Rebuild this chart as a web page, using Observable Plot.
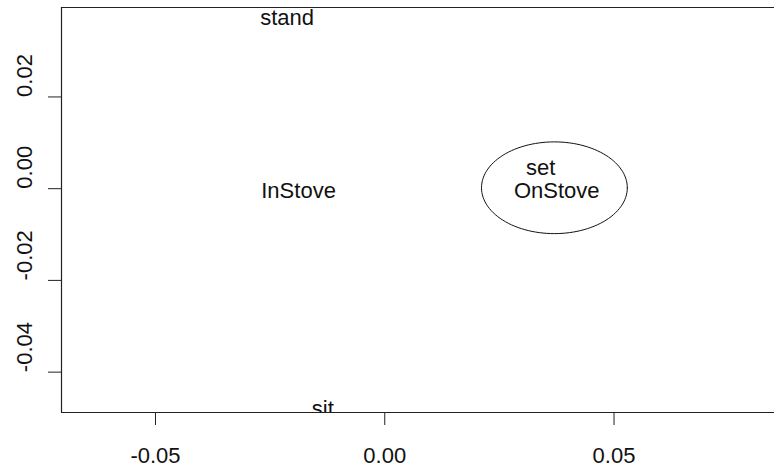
<!DOCTYPE html>
<html><head><meta charset="utf-8">
<script src="https://cdn.jsdelivr.net/npm/d3@7"></script>
<script src="https://cdn.jsdelivr.net/npm/@observablehq/plot@0.6"></script>
<style>body{margin:0;background:#fff}</style>
</head><body><div id="chart"></div>
<script>
const labels = ["stand", "InStove", "sit", "set", "OnStove"];
const labelX = [-0.0213, -0.0188, -0.0135, 0.0340, 0.0375];
const labelY = [0.0377, 0.0000, -0.0474, 0.0050, 0.0000];
const xTicks = [-0.05, 0, 0.05];
const yTicks = [-0.04, -0.02, 0, 0.02];
const xDomain = [-0.0705, 0.085];
const yDomain = [-0.0488, 0.0395];
const ellipseCenter = [0.0370, 0.0002];
const ellipseRadii = [0.0159, 0.0100];

const points = labels.map((t, i) => ({label: t, x: labelX[i], y: labelY[i]}));
const ellipse = d3.range(0, 121).map(k => {
  const a = (k / 120) * 2 * Math.PI;
  return {x: ellipseCenter[0] + ellipseRadii[0] * Math.cos(a), y: ellipseCenter[1] + ellipseRadii[1] * Math.sin(a)};
});
const fmt = d => d.toFixed(2);

const chart = Plot.plot({
  width: 774, height: 471,
  marginLeft: 61, marginRight: 0, marginTop: 7, marginBottom: 59,
  style: {fontFamily: "'Liberation Sans', Arial, sans-serif", fontSize: "22px", color: "#000", background: "#fff"},
  x: {domain: xDomain, label: null},
  y: {domain: yDomain, label: null},
  marks: [
    Plot.line(ellipse, {x: "x", y: "y", stroke: "#111", strokeWidth: 1}),
    Plot.text(points, {x: "x", y: "y", text: "label", fontSize: 22, fill: "#111", dy: 2.5, clip: true}),
    Plot.ruleX([xDomain[0]], {stroke: "#222", strokeWidth: 1.2}),
    Plot.ruleY(yDomain, {stroke: "#222", strokeWidth: 1.2}),
    Plot.axisX({ticks: xTicks, tickSize: 13, tickPadding: 22, tickFormat: fmt, fontSize: 22, fill: "#111", stroke: "#222", label: null}),
    Plot.axisY({ticks: yTicks, tickSize: 13, tickFormat: () => "", stroke: "#222", label: null}),
    Plot.text(yTicks, {y: d => d, frameAnchor: "left", dx: -37, rotate: -90, text: fmt, fontSize: 22, fill: "#111", lineAnchor: "middle"})
  ]
});
document.getElementById("chart").appendChild(chart);
</script>
</body></html>
